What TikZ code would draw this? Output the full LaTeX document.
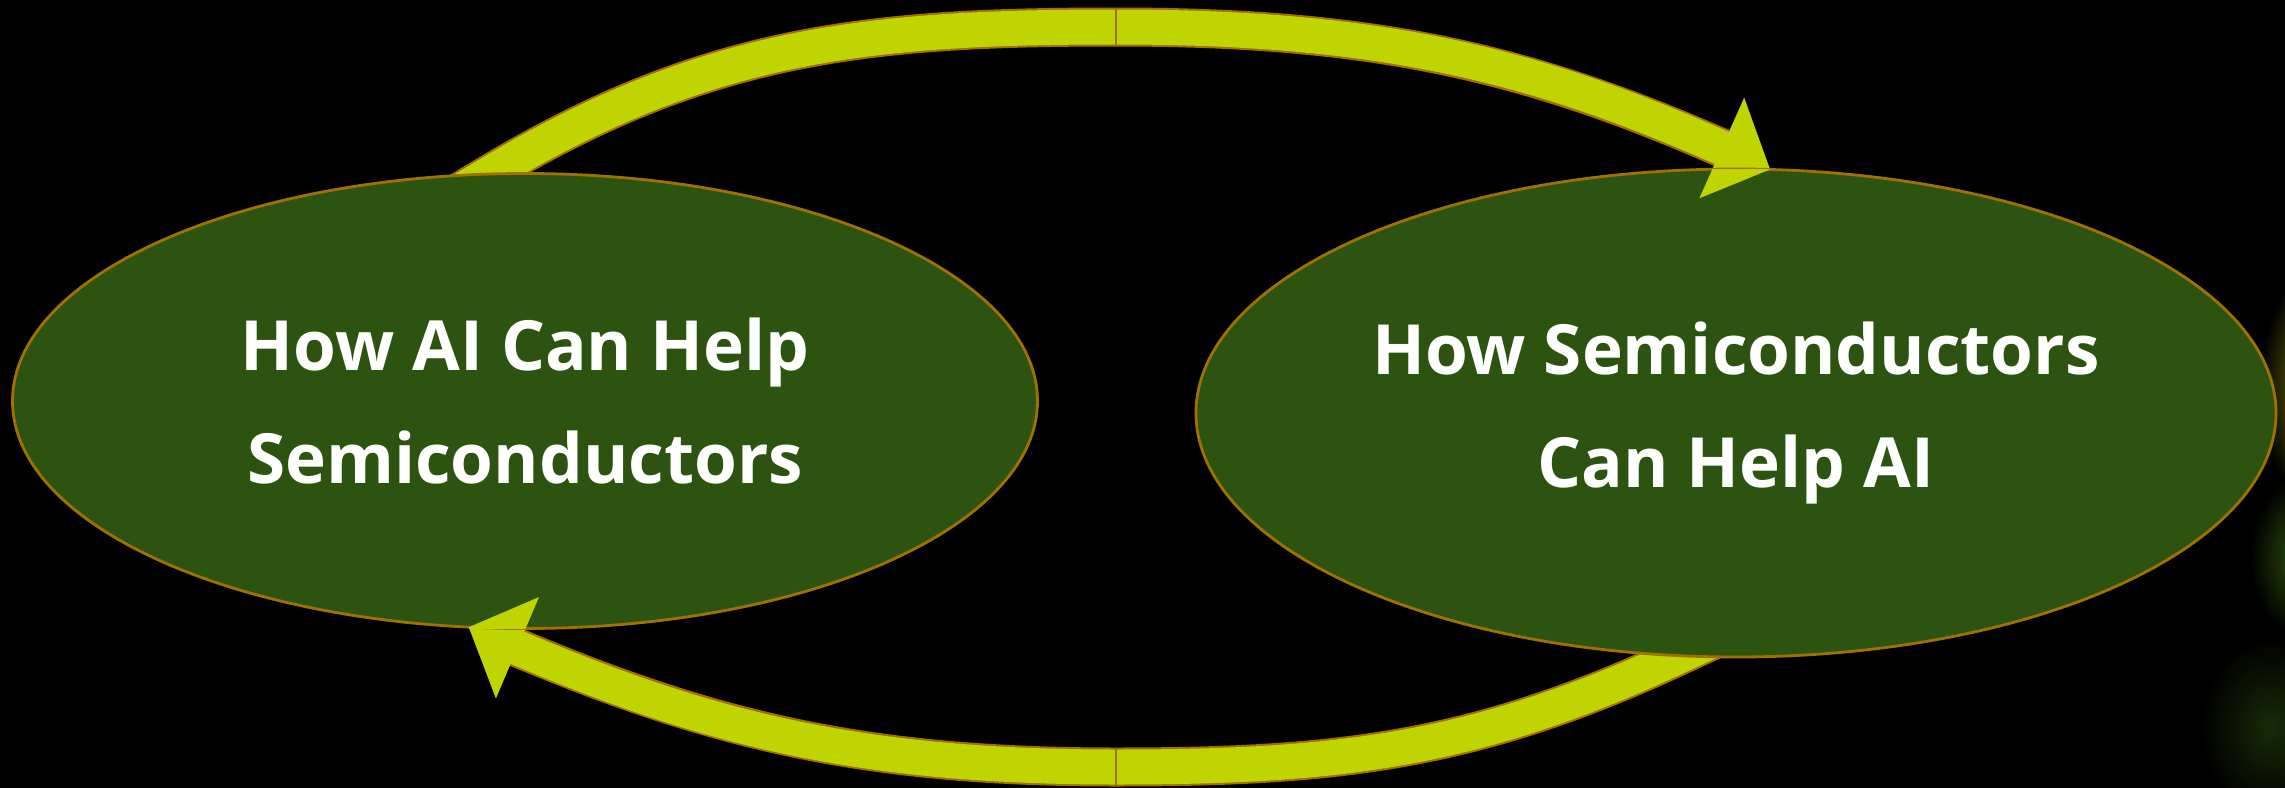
\documentclass[tikz,border=0pt]{standalone}
\usepackage{fontspec}
\setmainfont{Open Sans}
\usetikzlibrary{calc, shapes.geometric, arrows.meta}

\definecolor{blattgruen}{RGB}{45,83,16}
\definecolor{rahmen}{RGB}{160,112,0}
\definecolor{gelbgruen}{RGB}{191,212,0}

\tikzset{
    form/.style={ellipse, inner sep=0pt, outer sep=0pt},
    blase/.style={form, fill=blattgruen, draw=rahmen, line width=0.8pt},
    schrift/.style={text=white, align=center, font=\bfseries\fontsize{19.7}{32}\selectfont},
    pfeilrand/.style={draw=rahmen, line width=0.39cm, shorten >=0.4cm},
    pfeil/.style={draw=gelbgruen, line width=0.35cm, -{Triangle[length=0.53cm, width=1.07cm]}},
}

%Wege der Pfeile
\newcommand{\wegoben}{($(L.99)+(211:0.4)$) -- (L.99) to[out=31,in=180] (oben) to[out=0,in=156] (R.82)}
\newcommand{\wegunten}{($(R.257)+(25:0.4)$) -- (R.257) to[out=205,in=0] (unten) to[out=180,in=-23] (L.256)}

\begin{document}
\begin{tikzpicture}
        %Hintergrund
        \useasboundingbox (0,0) rectangle (22.85,7.87);
        \fill[black] (-0.1,-0.1) rectangle (22.95,7.97);
        \shade[inner color={rgb,255:red,92;green,96;blue,8}, outer color=black] (23.05,4.0) ellipse (0.45 and 1.1);
        \shade[inner color={rgb,255:red,44;green,78;blue,12}, outer color=black] (23.0,2.3) ellipse (0.5 and 0.8);
        \shade[inner color={rgb,255:red,24;green,42;blue,8}, outer color=black] (22.7,0.6) ellipse (0.7 and 0.9);

        %Ellipsen (nur Koordinaten, gezeichnet wird spaeter)
        \node[form, minimum width=10.25cm, minimum height=4.55cm] (L) at (5.25,3.86) {};
        \node[form, minimum width=10.8cm, minimum height=4.88cm] (R) at (17.36,3.74) {};
        \coordinate (oben) at (11.16,7.6);
        \coordinate (unten) at (11.16,0.2);

        %Pfeile
        \draw[pfeilrand] \wegoben;
        \draw[pfeil] \wegoben;
        \draw[pfeilrand] \wegunten;
        \draw[pfeil] \wegunten;

        %Ellipsen
        \node[blase, minimum width=10.25cm, minimum height=4.55cm] (links) at (L) {};
        \node[blase, minimum width=10.8cm, minimum height=4.88cm] (rechts) at (R) {};
        \node[schrift] (textlinks) at (links) {How AI Can Help\\Semiconductors};
        \node[schrift] (textrechts) at (rechts) {How Semiconductors\\Can Help AI};

        %Pfeilspitzen nochmal ueber die Ellipsen
        \begin{scope}
            \clip (R.west |- R.north) rectangle (R.east |- R.south);
            \draw[pfeilrand] \wegoben;
            \draw[pfeil] \wegoben;
        \end{scope}
        \begin{scope}
            \clip (L.west |- L.north) rectangle (L.east |- L.south);
            \draw[pfeilrand] \wegunten;
            \draw[pfeil] \wegunten;
        \end{scope}

        %Naht in der Mitte
        \draw[rahmen, line width=0.6pt] ($(oben)+(0,0.19)$) -- ($(oben)+(0,-0.19)$);
        \draw[rahmen, line width=0.6pt] ($(unten)+(0,0.19)$) -- ($(unten)+(0,-0.19)$);
    \end{tikzpicture}
\end{document}
